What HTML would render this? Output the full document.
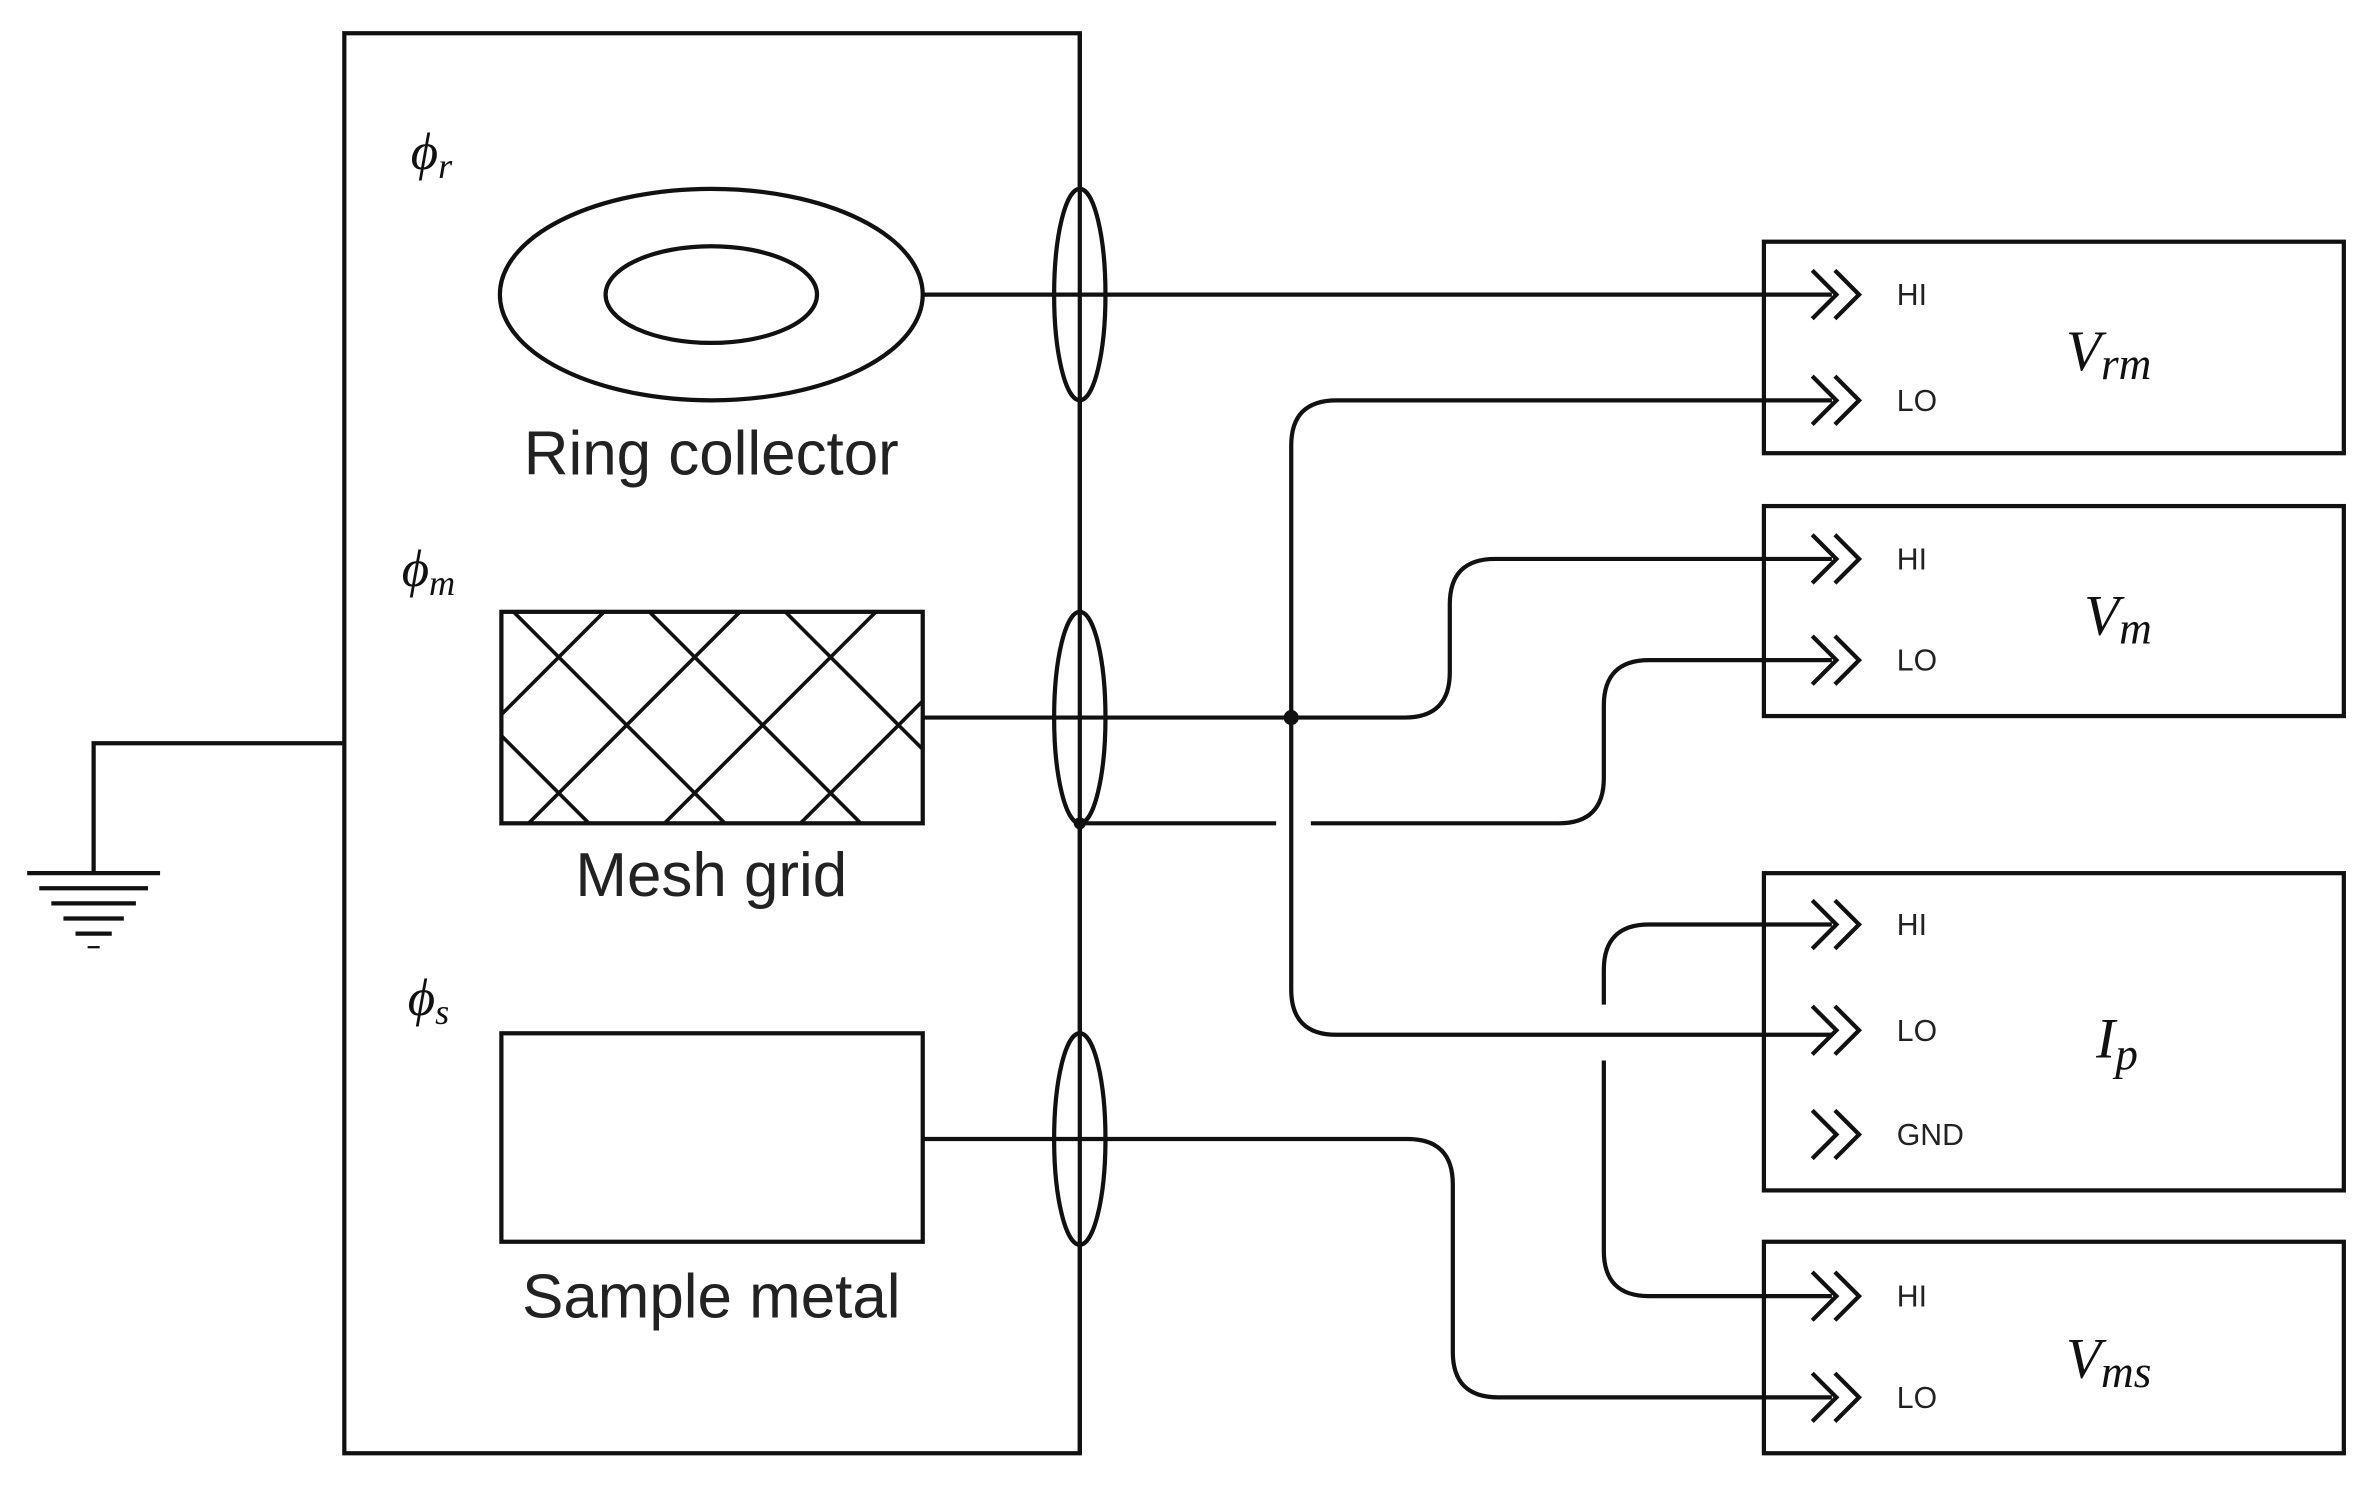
<!DOCTYPE html>
<html><head><meta charset="utf-8"><style>
html,body{margin:0;padding:0;background:#fff;}
svg{display:block;}
.t{font-family:"Liberation Sans",sans-serif;fill:#222;}
.m{font-family:"Liberation Serif",serif;font-style:italic;fill:#111;}
</style></head><body>
<svg width="2368" height="1488" viewBox="0 0 1568 985" preserveAspectRatio="none" xmlns="http://www.w3.org/2000/svg">
<defs>
<clipPath id="mc"><rect x="332" y="405" width="279" height="140"/></clipPath>
<g id="ch" fill="none" stroke="#111" stroke-width="2.8"><polyline points="-18,-16 -2,0 -18,16"/><polyline points="-3,-16 13,0 -3,16"/></g>
</defs>
<g fill="none" stroke="#111" stroke-width="2.8">
<rect x="228" y="22" width="487" height="940"/>
<polyline points="228,492 62,492 62,578"/>
<line x1="18" y1="578" x2="106" y2="578"/>
<line x1="26" y1="588" x2="98" y2="588"/>
<line x1="34" y1="598" x2="90" y2="598"/>
<line x1="42" y1="608" x2="82" y2="608"/>
<line x1="50" y1="618" x2="74" y2="618"/>
<line x1="58" y1="627" x2="66" y2="627" stroke-width="1.5"/>
<ellipse cx="471" cy="195" rx="140" ry="70"/>
<ellipse cx="471" cy="195" rx="70" ry="32"/>
<rect x="332" y="405" width="279" height="140"/>
<g clip-path="url(#mc)" stroke-width="2.4">
<line x1="250" y1="405" x2="390" y2="545"/><line x1="340" y1="405" x2="480" y2="545"/><line x1="430" y1="405" x2="570" y2="545"/><line x1="520" y1="405" x2="660" y2="545"/><line x1="610" y1="405" x2="750" y2="545"/><line x1="160" y1="405" x2="300" y2="545"/>
<line x1="400" y1="405" x2="260" y2="545"/><line x1="490" y1="405" x2="350" y2="545"/><line x1="580" y1="405" x2="440" y2="545"/><line x1="670" y1="405" x2="530" y2="545"/><line x1="760" y1="405" x2="620" y2="545"/><line x1="850" y1="405" x2="710" y2="545"/>
</g>
<rect x="332" y="684" width="279" height="138"/>
<ellipse cx="715" cy="195" rx="17" ry="70" fill="#fff"/>
<ellipse cx="715" cy="475" rx="17" ry="70" fill="#fff"/>
<ellipse cx="715" cy="754" rx="17" ry="70" fill="#fff"/>
<line x1="715" y1="22" x2="715" y2="962"/>
<line x1="611" y1="195" x2="1213" y2="195"/>
<path d="M611,475 H930 Q960,475 960,445 V400 Q960,370 990,370 H1213"/>
<path d="M715,545 H845 M868,545 H1032 Q1062,545 1062,515 V467 Q1062,437 1092,437 H1213"/>
<path d="M1213,265 H885 Q855,265 855,295 V655 Q855,685 885,685 H1213"/>
<path d="M611,754 H932 Q962,754 962,784 V895 Q962,925 992,925 H1213"/>
<path d="M1213,612 H1092 Q1062,612 1062,642 V665 M1062,702 V828 Q1062,858 1092,858 H1213"/>
<rect x="1168" y="160" width="384" height="140"/>
<rect x="1168" y="335" width="384" height="139"/>
<rect x="1168" y="578" width="384" height="210"/>
<rect x="1168" y="822" width="384" height="140"/>
</g>
<circle cx="855" cy="475" r="5" fill="#111"/>
<circle cx="715" cy="545" r="4" fill="#111"/>
<use href="#ch" x="1218" y="195"/><use href="#ch" x="1218" y="265"/>
<use href="#ch" x="1218" y="370"/><use href="#ch" x="1218" y="437"/>
<use href="#ch" x="1218" y="612"/><use href="#ch" x="1218" y="682"/><use href="#ch" x="1218" y="751"/>
<use href="#ch" x="1218" y="858"/><use href="#ch" x="1218" y="925"/>
<g class="t" font-size="20">
<text x="1256" y="202">HI</text><text x="1256" y="272">LO</text>
<text x="1256" y="377">HI</text><text x="1256" y="444">LO</text>
<text x="1256" y="619">HI</text><text x="1256" y="689">LO</text><text x="1256" y="758">GND</text>
<text x="1256" y="865">HI</text><text x="1256" y="932">LO</text>
</g>
<g class="t" font-size="41" text-anchor="middle">
<text x="471" y="314">Ring collector</text>
<text x="471" y="593">Mesh grid</text>
<text x="471" y="872">Sample metal</text>
</g>
<g class="m" font-size="38">
<text x="1368" y="245">V<tspan font-size="30" dy="6">rm</tspan></text>
<text x="1380" y="420">V<tspan font-size="30" dy="6">m</tspan></text>
<text x="1388" y="700">I<tspan font-size="30" dy="8">p</tspan></text>
<text x="1368" y="912">V<tspan font-size="30" dy="6">ms</tspan></text>
</g>
<g class="m" font-size="35">
<text x="272" y="112">ϕ<tspan font-size="24" dy="6">r</tspan></text>
<text x="266" y="388">ϕ<tspan font-size="24" dy="6">m</tspan></text>
<text x="270" y="672">ϕ<tspan font-size="24" dy="6">s</tspan></text>
</g>
</svg>
</body></html>
